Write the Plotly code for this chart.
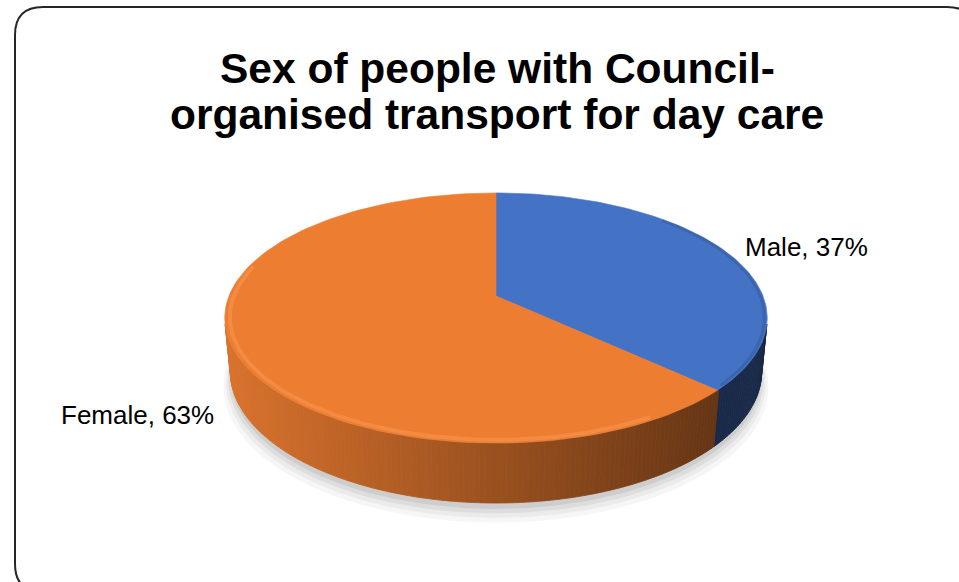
import numpy as np
import plotly.graph_objects as go

# ---- data -------------------------------------------------------------
categories = ["Male", "Female"]
shares = [37, 63]                       # percent
top_colors = ["#4472C4", "#ED7D31"]
title_lines = ["Sex of people with Council-", "organised transport for day care"]

# ---- canvas -----------------------------------------------------------
W, H = 959, 582
FONT = "Liberation Sans, Arial, sans-serif"

# ---- simple perspective model of a tilted disc -------------------------
CX, CY = 496.0, 296.0      # screen position of the pie centre
FOC = 1351.0               # focal length (px per unit radius at distance 1)
DIST = 5.06                # camera distance (unit radius)
SA, CA = 0.454, 0.891      # sin / cos of the elevation angle
THICK = 0.225              # disc thickness (unit radius)


def project(theta_deg, z=0.0, r=1.0):
    """theta measured clockwise from the back (12 o'clock) of the disc."""
    th = np.radians(np.asarray(theta_deg, dtype=float))
    x = r * np.sin(th)
    y = r * np.cos(th)
    depth = DIST + y * CA - z * SA
    up = y * SA + z * CA
    return CX + x * FOC / depth, CY - up * FOC / depth


def hex_rgb(h):
    h = h.lstrip("#")
    return tuple(int(h[i:i + 2], 16) for i in (0, 2, 4))


def shade(h, f):
    r, g, b = hex_rgb(h)
    return f"rgb({int(r * f)},{int(g * f)},{int(b * f)})"


# slice angle spans (clockwise from 12 o'clock)
total = float(sum(shares))
bounds = np.concatenate([[0.0], np.cumsum(shares) / total * 360.0])

fig = go.Figure()

# soft ground shadow under the disc (only the lower part shows)
for grow, drop, alpha in [(1.03, 14, 0.035), (1.02, 11, 0.045),
                          (1.012, 8, 0.06), (1.005, 5, 0.07)]:
    th = np.linspace(0, 360, 241)
    sx, sy = project(th, -THICK, grow)
    sx = CX + (sx - CX) * 0.995
    fig.add_trace(go.Scatter(x=sx, y=sy + drop, mode="lines", fill="toself",
                             line=dict(width=0), fillcolor=f"rgba(0,0,0,{alpha})",
                             hoverinfo="skip", showlegend=False))

# visible part of the outer wall
vis = np.degrees(np.arccos(-1.0 / (DIST * CA)))
th_wall = np.linspace(vis, 360 - vis, 161)
wx_all, _ = project(th_wall)
xmin, xmax = wx_all.min(), wx_all.max()
for a, b in zip(th_wall[:-1], th_wall[1:]):
    mid = 0.5 * (a + b)
    idx = int(np.searchsorted(bounds, mid, side="right") - 1)
    idx = min(max(idx, 0), len(categories) - 1)
    tx, ty = project([a, b], 0.0)
    bx, by = project([b, a], -THICK)
    px = np.concatenate([tx, bx, tx[:1]])
    py = np.concatenate([ty, by, ty[:1]])
    t = (0.5 * (tx.mean() + bx.mean()) - xmin) / (xmax - xmin)
    f = 0.92 - 0.54 * t
    if idx == 0:
        f = 0.43 - 0.06 * t
    col = shade(top_colors[idx], f)
    fig.add_trace(go.Scatter(x=px, y=py, mode="lines", fill="toself",
                             line=dict(width=0.8, color=col), fillcolor=col,
                             hoverinfo="skip", showlegend=False))

# top faces of the slices
for i, cat in enumerate(categories):
    th = np.linspace(bounds[i], bounds[i + 1], 120)
    ax, ay = project(th, 0.0)
    px = np.concatenate([[CX], ax, [CX]])
    py = np.concatenate([[CY], ay, [CY]])
    fig.add_trace(go.Scatter(x=px, y=py, mode="lines", fill="toself",
                             line=dict(width=0.6, color=top_colors[i]),
                             fillcolor=top_colors[i], name=cat,
                             hoverinfo="skip", showlegend=False))

# soft bevel lighting along the front rim of the top face
th = np.linspace(max(bounds[1], 150), 285, 120)
hx, hy = project(th, 0.0, 0.982)
fig.add_trace(go.Scatter(x=hx, y=hy, mode="lines",
                         line=dict(width=4, color="rgba(255,165,100,0.35)"),
                         hoverinfo="skip", showlegend=False))
th = np.linspace(45, bounds[1] - 2, 80)
dx, dy = project(th, 0.0, 0.99)
fig.add_trace(go.Scatter(x=dx, y=dy, mode="lines",
                         line=dict(width=3, color="rgba(25,45,85,0.18)"),
                         hoverinfo="skip", showlegend=False))

# data labels
labels = [f"{c}, {v}%" for c, v in zip(categories, shares)]
fig.add_annotation(x=743, y=247, text=labels[0], showarrow=False,
                   xanchor="left", yanchor="middle",
                   font=dict(family=FONT, size=26, color="#000000"))
fig.add_annotation(x=216, y=415, text=labels[1], showarrow=False,
                   xanchor="right", yanchor="middle",
                   font=dict(family=FONT, size=26, color="#000000"))

# title
for line, y in zip(title_lines, [68, 114]):
    fig.add_annotation(x=497, y=y, text=f"<b>{line}</b>", showarrow=False,
                       xanchor="center", yanchor="middle",
                       font=dict(family=FONT, size=42.5, color="#000000"))

# rounded chart-area border
L, T, R, B, RAD = 15, 7, 975, 592, 28
border = (f"M {L + RAD},{T} L {R - RAD},{T} Q {R},{T} {R},{T + RAD} "
          f"L {R},{B - RAD} Q {R},{B} {R - RAD},{B} L {L + RAD},{B} "
          f"Q {L},{B} {L},{B - RAD} L {L},{T + RAD} Q {L},{T} {L + RAD},{T} Z")
fig.add_shape(type="path", path=border, xref="x", yref="y",
              line=dict(color="#262626", width=2), fillcolor="rgba(0,0,0,0)",
              layer="above")

fig.update_layout(
    width=W, height=H,
    margin=dict(l=0, r=0, t=0, b=0),
    paper_bgcolor="white", plot_bgcolor="white",
    xaxis=dict(range=[0, W], visible=False, fixedrange=True),
    yaxis=dict(range=[H, 0], visible=False, fixedrange=True),
    showlegend=False,
)

fig.write_html("out.html")
